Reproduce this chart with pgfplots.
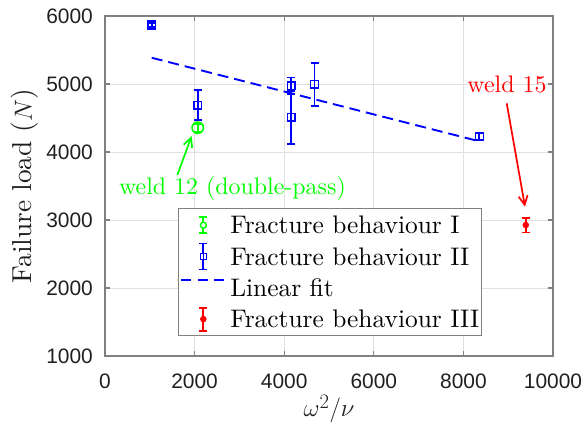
\documentclass[border=0pt]{standalone}
\usepackage{pgfplots}
\pgfplotsset{compat=1.18}
\usepackage{fontspec}
\usetikzlibrary{arrows.meta}

% Helvetica-like face for the tick numbers, Computer Modern proportions for text
\newfontfamily\hv{Liberation Sans}
\newfontfamily\cmr{lmroman10-regular}[Extension=.otf, ItalicFont=lmroman10-italic]

\definecolor{mgreen}{rgb}{0,1,0}
\definecolor{mblue}{rgb}{0,0,1}
\definecolor{mred}{rgb}{1,0,0}
\definecolor{axgray}{gray}{0.5}
\definecolor{gridgray}{gray}{0.88}
\definecolor{txt}{gray}{0.12}

% legend icons: vertical error bar with caps and the series' marker
\pgfplotsset{
  leg green/.style={legend image code/.code={
    \path (0bp,0bp) (43bp,0bp);
    \draw[mgreen, line width=1.8bp] (22bp,-8bp) -- (22bp,8bp)
      (18bp,-8bp) -- (26bp,-8bp) (18bp,8bp) -- (26bp,8bp);
    \draw[mgreen, line width=1.4bp, fill=white] (22bp,0bp) circle (3bp);
  }},
  leg blue/.style={legend image code/.code={
    \path (0bp,0bp) (43bp,0bp);
    \draw[mblue, line width=1.8bp] (22bp,-13bp) -- (22bp,13bp)
      (18bp,-13bp) -- (26bp,-13bp) (18bp,13bp) -- (26bp,13bp);
    \draw[mblue, line width=1.4bp, fill=white] (19bp,-3bp) rectangle (25bp,3bp);
    \draw[mblue, line width=1.4bp] (22bp,-3bp) -- (22bp,3bp);
  }},
  leg fit/.style={legend image code/.code={
    \draw[mblue, line width=1.8bp, dash pattern=on 10bp off 6.5bp] (0bp,8bp) -- (43bp,8bp);
  }},
  leg red/.style={legend image code/.code={
    \path (0bp,0bp) (43bp,0bp);
    \draw[mred, line width=1.8bp] (22bp,-11.5bp) -- (22bp,11.5bp)
      (18bp,-11.5bp) -- (26bp,-11.5bp) (18bp,11.5bp) -- (26bp,11.5bp);
    \fill[mred] (22bp,0bp) circle (2.8bp);
  }},
  ebar/.style={error bars/.cd, y dir=both, y explicit,
    error bar style={#1, line width=1.9bp, solid},
    error mark options={#1, rotate=90, mark size=4bp, line width=1.9bp, solid},
    /pgfplots/.cd},
}

\begin{document}
\begin{tikzpicture}
\useasboundingbox (-105bp,-71bp) rectangle (480bp,356bp);
\begin{axis}[
  at={(0,0)}, anchor=south west,
  scale only axis, width=448bp, height=340bp,
  xmin=0, xmax=10000, ymin=1000, ymax=6000,
  xtick={0,2000,...,10000}, ytick={1000,2000,...,6000},
  scaled ticks=false,
  /pgf/number format/1000 sep={},
  /pgf/number format/assume math mode=true,
  grid=major,
  major grid style={gridgray, line width=0.9bp},
  axis line style={axgray, line width=1.1bp},
  every tick/.style={axgray, line width=1.1bp},
  tick align=inside, tick pos=both, major tick length=5bp,
  xticklabel style={font=\fontsize{21}{25}\hv, text=txt, anchor=base, inner sep=0pt, yshift=-32bp},
  yticklabel style={font=\fontsize{21}{25}\hv, text=txt, anchor=east, inner sep=0pt, xshift=-12bp},
  xlabel={$\omega^2/\nu$},
  xlabel style={at={(axis description cs:0.5,-0.1794)}, anchor=base, font=\fontsize{29}{32}\cmr, text=txt},
  ylabel={Failure load ($N$)},
  ylabel style={at={(axis description cs:-0.163,0.5)}, anchor=base, font=\fontsize{27.5}{30}\cmr, text=txt},
  legend style={at={(axis description cs:0.163,0.435)}, anchor=north west,
    draw=axgray, line width=0.9bp, fill=white,
    inner xsep=2bp, inner ysep=1bp, column sep=5bp, row sep=0pt,
    font=\fontsize{25.5}{30}\cmr, text=black,
    nodes={inner sep=0pt, text height=24.3bp, text depth=7bp}},
  legend cell align=left,
]

% fracture behaviour I
\addplot[mgreen, only marks, mark=o, mark size=5.7bp, mark options={line width=1.6bp}, ebar=mgreen, leg green]
  coordinates {(2070,4357) +- (0,60)};
\addlegendentry{Fracture behaviour I}

% fracture behaviour II
\addplot[mblue, only marks, mark=square, mark size=3.9bp, mark options={line width=1.5bp}, ebar=mblue, leg blue]
  coordinates {
    (1043,5868) +- (0,30)
    (2070,4687) +- (0,220)
    (4156,4975) +- (0,120)
    (4156,4510) +- (0,390)
    (4677,4995) +- (0,320)
    (8358,4225) +- (0,55)
  };
\addlegendentry{Fracture behaviour II}

% least-squares line through the behaviour II welds
\addplot[mblue, line width=1.9bp, dash pattern=on 11bp off 6bp, leg fit]
  coordinates {(1043,5386) (8358,4157)};
\addlegendentry{Linear fit}

% fracture behaviour III
\addplot[mred, only marks, mark=*, mark size=3bp, ebar=mred, leg red]
  coordinates {(9392,2926) +- (0,110)};
\addlegendentry{Fracture behaviour III}

% callouts
\node[mgreen, anchor=base, font=\fontsize{24}{28}\cmr, inner sep=0pt] at (axis cs:2846,3382) {weld 12 (double-pass)};
\draw[mgreen, line width=1.7bp, -{Straight Barb[length=9bp, width=9bp]}] (axis cs:1614,3662) -- (axis cs:1935,4235);
\node[mred, anchor=base, font=\fontsize{24}{28}\cmr, inner sep=0pt] at (axis cs:8973,4882) {weld 15};
\draw[mred, line width=1.7bp, -{Straight Barb[length=9bp, width=9bp]}] (axis cs:8967,4716) -- (axis cs:9375,3196);
\end{axis}
\end{tikzpicture}
\end{document}
